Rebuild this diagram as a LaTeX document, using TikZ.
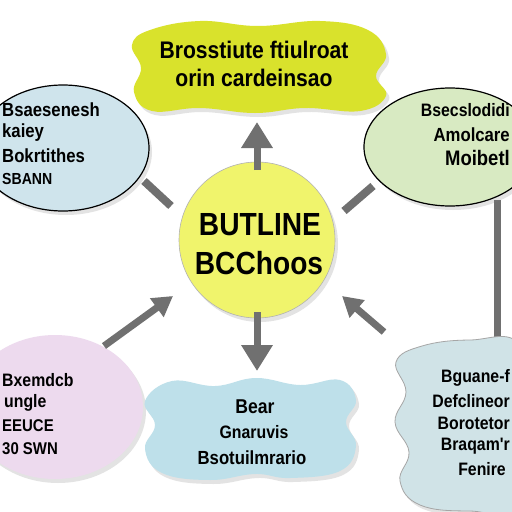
\documentclass[tikz,border=0pt]{standalone}
\usepackage{fontspec}
\setmainfont{Liberation Sans}
\newfontfamily\cond[FakeStretch=0.88]{Liberation Sans}
\usetikzlibrary{arrows.meta,shadows}
\definecolor{topc}{HTML}{D9E22C}
\definecolor{cenc}{HTML}{F0F46C}
\definecolor{ltc}{HTML}{CFE4EC}
\definecolor{rtc}{HTML}{D8EAC2}
\definecolor{pkc}{HTML}{EDDAEE}
\definecolor{bcc}{HTML}{BEE0EA}
\definecolor{brc}{HTML}{D0E3E7}
\definecolor{arr}{HTML}{707070}
\tikzset{
  shad/.style={drop shadow={opacity=0.22,shadow xshift=3pt,shadow yshift=-4pt}},
  txt/.style={font=\cond\bfseries, inner sep=0pt, text=black},
  stub/.style={draw=arr, line width=8pt, line cap=butt},
  arw/.style={draw=arr, line width=7pt, -{Triangle[width=30pt,length=26pt]}},
}
\begin{document}
\begin{tikzpicture}[x=1pt,y=-1pt]
\fill[white] (0,0) rectangle (512,512);
\useasboundingbox (0,0) rectangle (512,512);
% connectors (under shapes)
\coordinate (r1) at (497,200);
\coordinate (r2) at (497,350);
\path[stub, line width=7pt] (r1) -- (r2);
% top cloud
\path[fill=topc, shad] plot[smooth cycle, tension=0.7] coordinates {(150,30) (200,21) (258,26) (320,21) (368,30) (386,54) (376,76) (386,96) (360,111) (305,108) (255,113) (200,108) (152,111) (134,92) (141,68) (132,45)};
% left top ellipse
\path[fill=ltc, draw=black, line width=1.2pt, shad] (63,148) ellipse [x radius=86, y radius=63];
% right top ellipse
\path[fill=rtc, draw=black, line width=1.2pt, shad] (450,147) ellipse [x radius=86, y radius=59];
% pink ellipse
\path[fill=pkc, shad] (55,407) ellipse [x radius=88, y radius=72];
% bottom cloud
\path[fill=bcc, shad] plot[smooth cycle, tension=0.7] coordinates {(172,381) (215,386) (256,378) (300,385) (340,380) (356,400) (346,422) (356,446) (340,471) (290,478) (255,474) (210,480) (162,473) (145,449) (155,425) (145,401)};
% bottom right cloud
\path[fill=brc, draw=gray!70, line width=0.8pt, shad] plot[smooth cycle, tension=0.7] coordinates {(422,346) (470,340) (520,345) (530,420) (520,506) (470,511) (420,505) (400,481) (409,452) (395,422) (406,392) (396,362)};
% centre circle
\node[circle, fill=cenc, draw=gray!60, line width=0.6pt, minimum size=156pt, shad] (c) at (257,240) {};
% arrows
\coordinate (a1s) at (257,170); \coordinate (a1e) at (257,122);
\draw[arw] (a1s) -- (a1e);
\coordinate (a2s) at (257,312); \coordinate (a2e) at (257,371);
\draw[arw] (a2s) -- (a2e);
\coordinate (a3s) at (144,181); \coordinate (a3e) at (171,206);
\draw[stub] (a3s) -- (a3e);
\coordinate (a4s) at (344,211); \coordinate (a4e) at (373,186);
\draw[stub] (a4s) -- (a4e);
\coordinate (a5s) at (104,346); \coordinate (a5e) at (173,296);
\draw[arw, -{Triangle[width=22pt,length=20pt]}] (a5s) -- (a5e);
\coordinate (a6s) at (384,332); \coordinate (a6e) at (342,296);
\draw[arw, -{Triangle[width=22pt,length=20pt]}] (a6s) -- (a6e);
% texts
\node[txt, font=\cond\bfseries\fontsize{24}{26}\selectfont] (t1) at (254,50) {Brosstiute ftiulroat};
\node[txt, font=\cond\bfseries\fontsize{24}{26}\selectfont] (t2) at (254,78) {orin cardeinsao};
\node[txt, anchor=west, font=\cond\bfseries\fontsize{19}{21}\selectfont] (l1) at (2,110) {Bsaesenesh};
\node[txt, anchor=west, font=\cond\bfseries\fontsize{19}{21}\selectfont] (l2) at (2,133) {kaiey};
\node[txt, anchor=west, font=\cond\bfseries\fontsize{19}{21}\selectfont] (l3) at (2,156) {Bokrtithes};
\node[txt, anchor=west, font=\cond\bfseries\fontsize{16}{18}\selectfont] (l4) at (2,179) {SBANN};
\node[txt, anchor=east, font=\cond\bfseries\fontsize{18}{20}\selectfont] (r1t) at (510,110) {Bsecslodidi};
\node[txt, anchor=east, font=\cond\bfseries\fontsize{19}{21}\selectfont] (r2t) at (510,135) {Amolcare};
\node[txt, anchor=east, font=\cond\bfseries\fontsize{21}{23}\selectfont] (r3t) at (510,158) {Moibetl};
\node[txt, font=\cond\bfseries\fontsize{32}{34}\selectfont] (c1) at (260,225) {BUTLINE};
\node[txt, font=\cond\bfseries\fontsize{32}{34}\selectfont] (c2) at (259,263) {BCChoos};
\node[txt, anchor=west, font=\cond\bfseries\fontsize{18}{20}\selectfont] (p1) at (2,380) {Bxemdcb};
\node[txt, anchor=west, font=\cond\bfseries\fontsize{18}{20}\selectfont] (p2) at (4,403) {ungle};
\node[txt, anchor=west, font=\cond\bfseries\fontsize{17}{19}\selectfont] (p3) at (2,426) {EEUCE};
\node[txt, anchor=west, font=\cond\bfseries\fontsize{17}{19}\selectfont] (p4) at (2,449) {30 SWN};
\node[txt, font=\cond\bfseries\fontsize{20}{22}\selectfont] (b1) at (255,407) {Bear};
\node[txt, font=\cond\bfseries\fontsize{18}{20}\selectfont] (b2) at (254,432) {Gnaruvis};
\node[txt, font=\cond\bfseries\fontsize{19}{21}\selectfont] (b3) at (252,458) {Bsotuilmrario};
\node[txt, anchor=east, font=\cond\bfseries\fontsize{18}{20}\selectfont] (q1) at (510,378) {Bguane-f};
\node[txt, anchor=east, font=\cond\bfseries\fontsize{18}{20}\selectfont] (q2) at (510,401) {Defclineor};
\node[txt, anchor=east, font=\cond\bfseries\fontsize{18}{20}\selectfont] (q3) at (510,423) {Borotetor};
\node[txt, anchor=east, font=\cond\bfseries\fontsize{18}{20}\selectfont] (q4) at (510,446) {Braqam'r};
\node[txt, anchor=east, font=\cond\bfseries\fontsize{18}{20}\selectfont] (q5) at (506,469) {Fenire};
\end{tikzpicture}
\end{document}
